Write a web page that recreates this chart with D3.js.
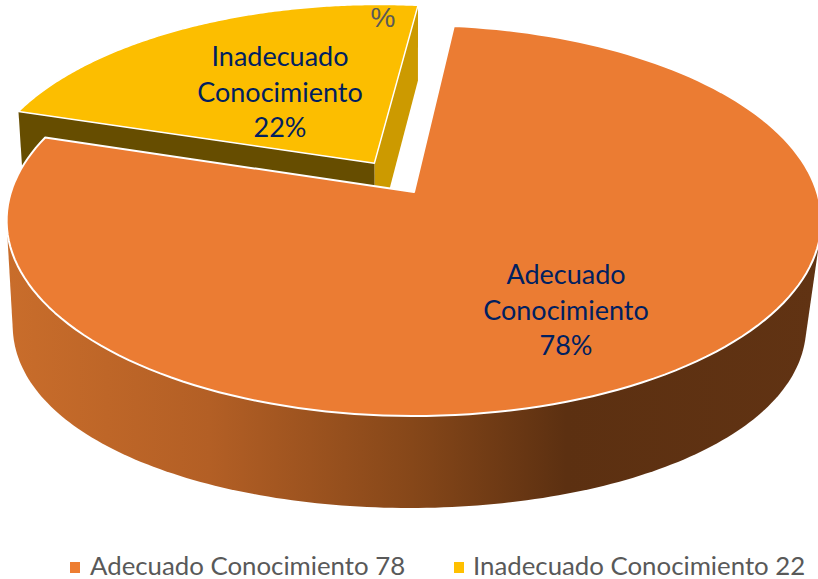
<!DOCTYPE html>
<html><head><meta charset="utf-8">
<script src="https://cdn.jsdelivr.net/npm/d3@7"></script>
<style>html,body{margin:0;padding:0;background:#fff;overflow:hidden}svg{display:block}text{font-family:Lato,"Open Sans",sans-serif}</style>
</head><body><div id="c"></div>
<script>
const categories=["Adecuado Conocimiento","Inadecuado Conocimiento"];
const values=[78,22];
const colors=["#EB7C33","#FCBE00"];
const legendColors=["#ED7D31","#FFC000"];
const labelLines=[["Adecuado","Conocimiento","78%"],["Inadecuado","Conocimiento","22%"]];
const legendLabels=["Adecuado Conocimiento 78","Inadecuado Conocimiento 22"];

const W=818,H=579,cx=414,cy=192,R=403,T=191.3,k=0.146;
const svg=d3.select("#c").append("svg").attr("width",W).attr("height",H);
const toRad=d=>d*Math.PI/180;
const pie=d3.pie().value(d=>d).sort(null).startAngle(toRad(6.5)).endAngle(toRad(366.5));
const arcs=pie(values);
const explode=[0,0.184];
const radiusFactor=[1,0.99];

// perspective projection of a disk point; the face is chosen by name
function proj(X,Y,face){
  const s=1/(1-k*Y);
  const x=R*X*s, y=T*Y*s;
  if(face==="top") return [cx+x, cy+y];
  if(face==="inner") return [cx+x*0.987, cy+y+28.8+54*s];
  return [cx-4.5+x*0.974, cy+y+104.6+5.23*Y-17.85*Y*Y]; // base of the outer wall
}
function pt(a,r,ex,ang,face){
  return proj(r*Math.sin(a)+ex*Math.sin(ang), -r*Math.cos(a)-ex*Math.cos(ang), face);
}
function arcPts(a0,a1,r,ex,ang,face){
  const n=160;
  return d3.range(n+1).map(i=>pt(a0+(a1-a0)*i/n,r,ex,ang,face));
}
const line=d3.line().curve(d3.curveLinear);
const defs=svg.append("defs");
const g=defs.append("linearGradient").attr("id","wall").attr("gradientUnits","userSpaceOnUse")
  .attr("x1",6).attr("x2",818).attr("y1",0).attr("y2",0);
[[0,"#c96d2b"],[0.25,"#b35f25"],[0.5,"#864719"],[0.69,"#5c3011"],[1,"#613313"]]
  .forEach(s=>g.append("stop").attr("offset",s[0]).attr("stop-color",s[1]));

// exploded slice: radial side faces then top
const yd=arcs[1], yEx=explode[1], yR=radiusFactor[1], ym=(yd.startAngle+yd.endAngle)/2;
const yV=f=>pt(0,0,yEx,ym,f);
const yA=f=>pt(yd.startAngle,yR,yEx,ym,f);
const yB=f=>pt(yd.endAngle,yR,yEx,ym,f);
svg.append("path").attr("d",line([yV("top"),yB("top"),yB("inner"),yV("inner")])+"Z").attr("fill","#CC9A00");
svg.append("path").attr("d",line([yV("top"),yA("top"),yA("inner"),yV("inner")])+"Z").attr("fill","#664D00");
svg.append("path").attr("d",line([yV("top"),...arcPts(yd.startAngle,yd.endAngle,yR,yEx,ym,"top")])+"Z")
  .attr("fill",colors[1]).attr("stroke","#fff").attr("stroke-width",1.5).attr("stroke-linejoin","round");

// large slice: outer wall silhouette then top
const od=arcs[0];
const wallHull=d3.polygonHull([...arcPts(toRad(95),toRad(265),1,0,0,"top"),...arcPts(toRad(95),toRad(265),1,0,0,"wall")]);
svg.append("path").attr("d",line(wallHull)+"Z").attr("fill","url(#wall)");
svg.append("path").attr("d",line([proj(0,0,"top"),...arcPts(od.startAngle,od.endAngle,1,0,0,"top")])+"Z")
  .attr("fill",colors[0]).attr("stroke","#fff").attr("stroke-width",2).attr("stroke-linejoin","round");

// data labels
const labelPos=[[566,284],[280,66]];
labelLines.forEach((ls,i)=>ls.forEach((t,j)=>{
  svg.append("text").attr("x",labelPos[i][0]).attr("y",labelPos[i][1]+j*35.7)
    .attr("text-anchor","middle").attr("font-size",27).attr("fill","#002060").text(t);
}));
svg.append("text").attr("x",383).attr("y",27).attr("text-anchor","middle").attr("font-size",28)
  .style("font-family","'Liberation Sans'").attr("fill","#595959").text("%");

// legend
const legX=[[70,90],[454,473]];
legendLabels.forEach((t,i)=>{
  svg.append("rect").attr("x",legX[i][0]).attr("y",562).attr("width",10).attr("height",11).attr("fill",legendColors[i]);
  svg.append("text").attr("x",legX[i][1]).attr("y",575).attr("font-size",25.8).attr("fill","#595959").text(t);
});
</script></body></html>
